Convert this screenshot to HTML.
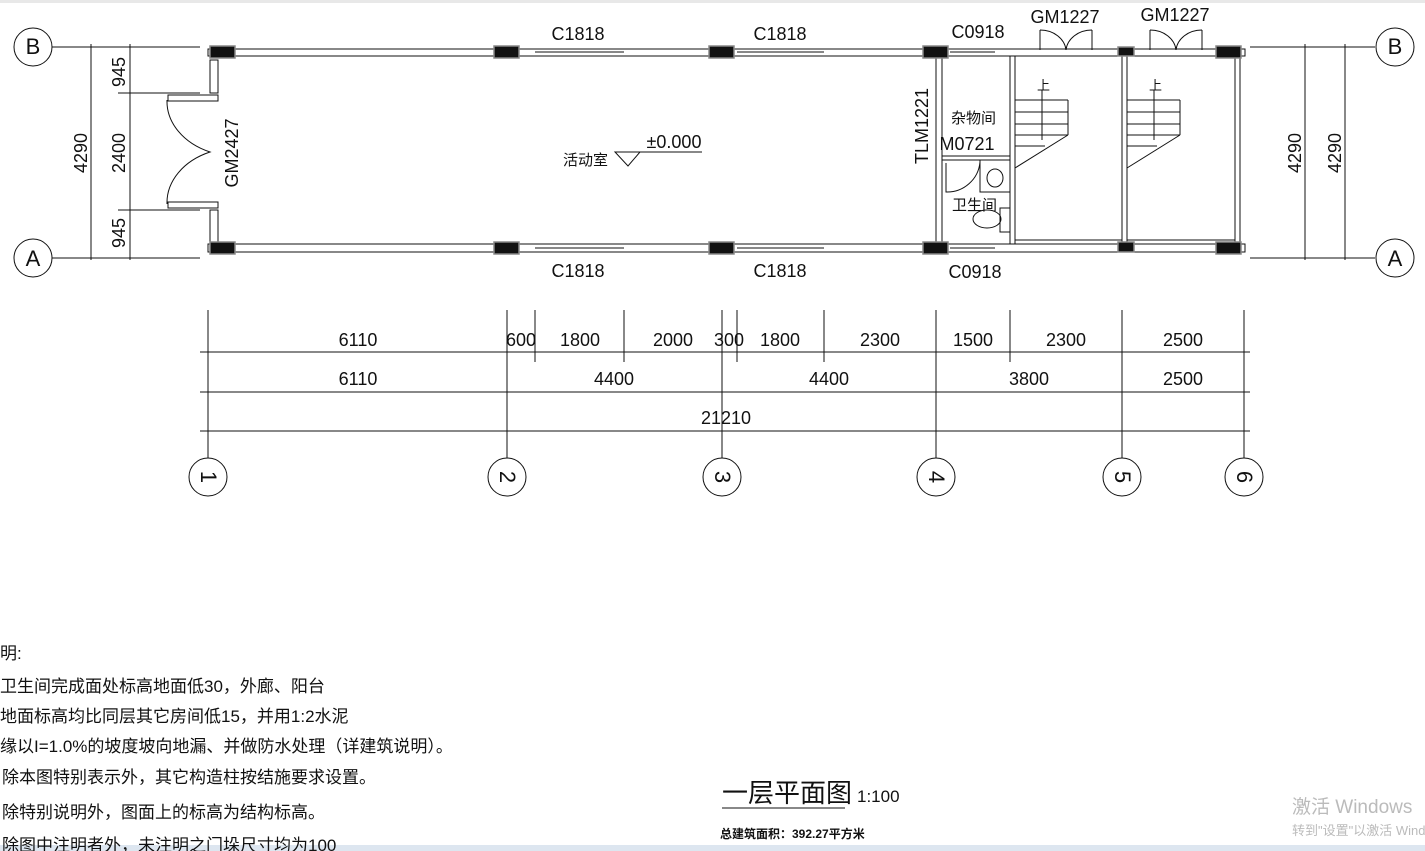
<!DOCTYPE html>
<html><head><meta charset="utf-8"><style>
body{margin:0;background:#fff;}
svg{display:block;}
text{font-family:"Liberation Sans","Noto Sans CJK SC",sans-serif;fill:#111;}
</style></head><body>
<svg width="1425" height="851" viewBox="0 0 1425 851" xmlns="http://www.w3.org/2000/svg">
<rect x="0" y="0" width="1425" height="3" fill="#e8e8e8"/>
<rect x="0" y="845" width="1425" height="6" fill="#dde6f0"/>
<g stroke="#111" fill="none" stroke-width="1">
<line x1="52" y1="47" x2="200" y2="47"/><line x1="52" y1="258" x2="200" y2="258"/>
<line x1="1250" y1="47" x2="1375" y2="47"/><line x1="1250" y1="258" x2="1375" y2="258"/>
<circle cx="33" cy="47" r="19"/><circle cx="33" cy="258" r="19"/>
<circle cx="1395" cy="47" r="19"/><circle cx="1395" cy="258" r="19"/>
<line x1="91" y1="44" x2="91" y2="260"/><line x1="130" y1="44" x2="130" y2="260"/>
<line x1="118" y1="93" x2="200" y2="93"/><line x1="118" y1="210" x2="200" y2="210"/>
<line x1="1305" y1="44" x2="1305" y2="260"/><line x1="1345" y1="44" x2="1345" y2="260"/>
<rect x="208" y="49" width="1037" height="7"/>
<rect x="208" y="244" width="1037" height="8"/>
<line x1="936" y1="56" x2="936" y2="244"/><line x1="942" y1="56" x2="942" y2="244"/>
<line x1="1010" y1="56" x2="1010" y2="244"/><line x1="1015" y1="56" x2="1015" y2="244"/>
<line x1="1122" y1="56" x2="1122" y2="244"/><line x1="1127" y1="56" x2="1127" y2="244"/>
<line x1="1235" y1="56" x2="1235" y2="244"/><line x1="1240" y1="56" x2="1240" y2="244"/>
<line x1="1015" y1="240" x2="1122" y2="240"/><line x1="1127" y1="240" x2="1235" y2="240"/>
<rect x="210" y="60" width="8" height="33"/><rect x="210" y="210" width="8" height="33"/>
<line x1="942" y1="156" x2="1010" y2="156"/><line x1="942" y1="160" x2="1010" y2="160"/>
<rect x="980" y="160" width="30" height="32"/>
<ellipse cx="995" cy="178" rx="8" ry="9"/>
<rect x="1000" y="208" width="10" height="24"/><ellipse cx="987" cy="219" rx="14" ry="9"/>
<path d="M946 163 L946 192 A33 33 0 0 0 980 162"/>
<path d="M167 100 A70 55 0 0 0 210 152 A70 55 0 0 0 167 204"/>
<rect x="168" y="95" width="50" height="6"/><rect x="168" y="202" width="50" height="6"/>
<path d="M1040 50 L1040 30 M1092 50 L1092 30 M1040 30 A26 22 0 0 1 1066 50 A26 22 0 0 1 1092 30"/>
<path d="M1150 50 L1150 30 M1202 50 L1202 30 M1150 30 A26 22 0 0 1 1176 50 A26 22 0 0 1 1202 30"/>
<g>
<line x1="1015" y1="100" x2="1068" y2="100"/><line x1="1015" y1="112" x2="1068" y2="112"/><line x1="1015" y1="124" x2="1068" y2="124"/><line x1="1015" y1="135" x2="1068" y2="135"/><line x1="1015" y1="146" x2="1045" y2="146"/>
<line x1="1068" y1="100" x2="1068" y2="135"/><line x1="1015" y1="168" x2="1068" y2="135"/>
<line x1="1042" y1="90" x2="1042" y2="140"/>
<line x1="1127" y1="100" x2="1180" y2="100"/><line x1="1127" y1="112" x2="1180" y2="112"/><line x1="1127" y1="124" x2="1180" y2="124"/><line x1="1127" y1="135" x2="1180" y2="135"/><line x1="1127" y1="146" x2="1157" y2="146"/>
<line x1="1180" y1="100" x2="1180" y2="135"/><line x1="1127" y1="168" x2="1180" y2="135"/>
<line x1="1154" y1="90" x2="1154" y2="140"/>
</g>
<line x1="535" y1="52" x2="624" y2="52"/><line x1="737" y1="52" x2="824" y2="52"/>
<line x1="535" y1="248" x2="624" y2="248"/><line x1="737" y1="248" x2="824" y2="248"/>
<line x1="950" y1="52" x2="995" y2="52"/><line x1="950" y1="248" x2="995" y2="248"/>
<path d="M615 152 L640 152 L628 166 Z"/><line x1="628" y1="152" x2="702" y2="152"/>
<line x1="208" y1="310" x2="208" y2="458"/><line x1="507" y1="310" x2="507" y2="458"/>
<line x1="722" y1="310" x2="722" y2="458"/><line x1="936" y1="310" x2="936" y2="458"/>
<line x1="1122" y1="310" x2="1122" y2="458"/><line x1="1244" y1="310" x2="1244" y2="458"/>
<line x1="535" y1="310" x2="535" y2="362"/><line x1="624" y1="310" x2="624" y2="362"/>
<line x1="737" y1="310" x2="737" y2="362"/><line x1="824" y1="310" x2="824" y2="362"/>
<line x1="1010" y1="310" x2="1010" y2="362"/>
<line x1="200" y1="352" x2="1250" y2="352"/><line x1="200" y1="392" x2="1250" y2="392"/><line x1="200" y1="431" x2="1250" y2="431"/>
<circle cx="208" cy="477" r="19"/><circle cx="507" cy="477" r="19"/><circle cx="722" cy="477" r="19"/>
<circle cx="936" cy="477" r="19"/><circle cx="1122" cy="477" r="19"/><circle cx="1244" cy="477" r="19"/>
<line x1="722" y1="808" x2="845" y2="808"/>
</g>
<g fill="#111" stroke="#888" stroke-width="1.5">
<rect x="210" y="46" width="25" height="12"/><rect x="210" y="242" width="25" height="12"/>
<rect x="494" y="46" width="25" height="12"/><rect x="494" y="242" width="25" height="12"/>
<rect x="709" y="46" width="25" height="12"/><rect x="709" y="242" width="25" height="12"/>
<rect x="923" y="46" width="25" height="12"/><rect x="923" y="242" width="25" height="12"/>
<rect x="1118" y="47" width="16" height="9"/><rect x="1118" y="242" width="16" height="10"/>
<rect x="1216" y="46" width="25" height="12"/><rect x="1216" y="242" width="25" height="12"/>
</g>
<g font-size="18" text-anchor="middle">
<text x="33" y="54" font-size="22">B</text><text x="33" y="266" font-size="22">A</text>
<text x="1395" y="54" font-size="22">B</text><text x="1395" y="266" font-size="22">A</text>
<text x="578" y="40">C1818</text><text x="780" y="40">C1818</text><text x="978" y="38">C0918</text>
<text x="578" y="277">C1818</text><text x="780" y="277">C1818</text><text x="975" y="278">C0918</text>
<text x="1065" y="23">GM1227</text><text x="1175" y="21">GM1227</text>
<text x="674" y="148">±0.000</text>
<text x="967" y="150">M0721</text>
<text x="358" y="346">6110</text><text x="521" y="346">600</text><text x="580" y="346">1800</text><text x="673" y="346">2000</text><text x="729" y="346">300</text><text x="780" y="346">1800</text><text x="880" y="346">2300</text><text x="973" y="346">1500</text><text x="1066" y="346">2300</text><text x="1183" y="346">2500</text>
<text x="358" y="385">6110</text><text x="614" y="385">4400</text><text x="829" y="385">4400</text><text x="1029" y="385">3800</text><text x="1183" y="385">2500</text>
<text x="726" y="424">21210</text>
<text transform="translate(87,153) rotate(-90)">4290</text>
<text transform="translate(125,72) rotate(-90)">945</text>
<text transform="translate(125,153) rotate(-90)">2400</text>
<text transform="translate(125,233) rotate(-90)">945</text>
<text transform="translate(1301,153) rotate(-90)">4290</text>
<text transform="translate(1341,153) rotate(-90)">4290</text>
<text transform="translate(238,153) rotate(-90)">GM2427</text>
<text transform="translate(928,126) rotate(-90)">TLM1221</text>
<text transform="translate(201,477) rotate(90)" font-size="22">1</text>
<text transform="translate(500,477) rotate(90)" font-size="22">2</text>
<text transform="translate(715,477) rotate(90)" font-size="22">3</text>
<text transform="translate(929,477) rotate(90)" font-size="22">4</text>
<text transform="translate(1115,477) rotate(90)" font-size="22">5</text>
<text transform="translate(1237,477) rotate(90)" font-size="22">6</text>
</g>
<g font-size="15">
<text x="563" y="165">活动室</text>
<text x="951" y="123">杂物间</text>
<text x="952" y="210">卫生间</text>
<text x="1037" y="90" font-size="13">上</text><text x="1149" y="90" font-size="13">上</text>
</g>
<g font-size="17">
<text x="0" y="659">明:</text>
<text x="0" y="692">卫生间完成面处标高地面低30，外廊、阳台</text>
<text x="0" y="722">地面标高均比同层其它房间低15，并用1:2水泥</text>
<text x="0" y="752">缘以I=1.0%的坡度坡向地漏、并做防水处理（详建筑说明）。</text>
<text x="2" y="783">除本图特别表示外，其它构造柱按结施要求设置。</text>
<text x="2" y="818">除特别说明外，图面上的标高为结构标高。</text>
<text x="2" y="851">除图中注明者外，未注明之门垛尺寸均为100</text>
</g>
<text x="720" y="838" font-size="12" font-weight="bold">总建筑面积：392.27平方米</text>
<text x="722" y="802" font-size="26">一层平面图</text>
<text x="857" y="802" font-size="17">1:100</text>
<text x="1292" y="813" font-size="19" style="fill:#bbb">激活 Windows</text>
<text x="1292" y="835" font-size="13" style="fill:#bbb">转到"设置"以激活 Windows</text>
</svg>
</body></html>
